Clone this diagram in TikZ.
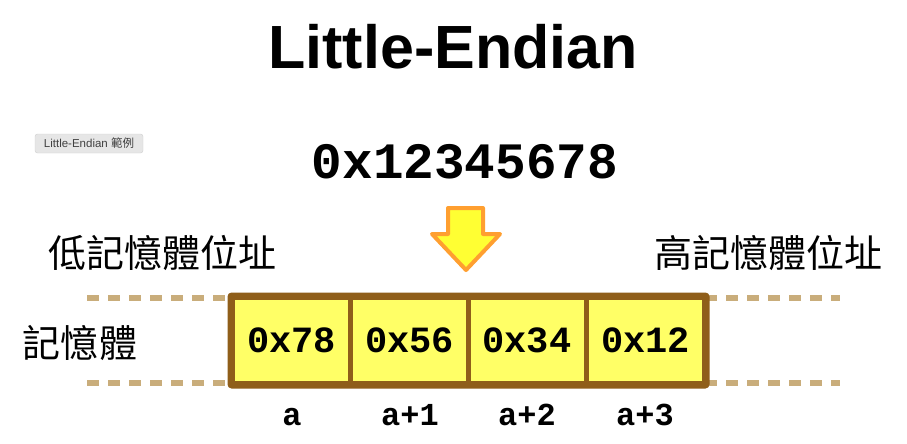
\documentclass[tikz,border=0pt]{standalone}
\usepackage{fontspec}
\setmainfont{Liberation Sans}
\newfontfamily\cjkfont{Noto Sans CJK TC}
\newfontfamily\monob{Liberation Mono}[BoldFont=* Bold]
\definecolor{cellfill}{HTML}{FFFF66}
\definecolor{cellborder}{HTML}{8F5E1A}
\definecolor{dashcol}{HTML}{C9AD7B}
\definecolor{arrowfill}{HTML}{FFFF33}
\definecolor{arrowborder}{HTML}{FF9F30}
\definecolor{tipfill}{HTML}{E6E6E6}
\definecolor{tipborder}{HTML}{CFCFCF}
\begin{document}
\begin{tikzpicture}[x=1pt,y=1pt,
  cell/.style={draw=cellborder, fill=cellfill, line width=5pt, minimum width=118pt, minimum height=86pt, inner sep=0pt, font=\monob\bfseries\fontsize{37}{40}\selectfont},
  addr/.style={font=\monob\bfseries\fontsize{32}{36}\selectfont, inner sep=0pt, anchor=base},
  cjklabel/.style={font=\cjkfont\fontsize{38}{42}\selectfont, inner sep=0pt},
  dashline/.style={dashcol, line width=6pt, dash pattern=on 12pt off 9pt}]
\useasboundingbox (0,0) rectangle (907,-444);
% title
\node[font=\bfseries\fontsize{61}{66}\selectfont, inner sep=0pt] (title) at (453,-47) {Little-Endian};
% tooltip
\node[draw=tipborder, fill=tipfill, rounded corners=2.5pt, minimum width=108pt, minimum height=19pt, inner sep=0pt, text=black!75, font=\fontsize{11.5}{13}\selectfont] (tip) at (89,-143.5) {Little-Endian {\cjkfont 範例}};
% value
\node[font=\monob\bfseries\fontsize{51}{56}\selectfont, inner sep=0pt] (value) at (465,-162) {0x12345678};
% arrow
\draw[draw=arrowborder, fill=arrowfill, line width=4pt, line join=round]
  (448,-208) -- (483,-208) -- (483,-234) -- (500,-234) -- (466,-270) -- (432,-234) -- (448,-234) -- cycle;
% labels
\node[cjklabel] (low) at (162,-253) {低記憶體位址};
\node[cjklabel] (high) at (768,-253) {高記憶體位址};
\node[cjklabel] (mem) at (80,-343) {記憶體};
% dashed lines
\coordinate (lt) at (87,-298);
\coordinate (lb) at (87,-383);
\coordinate (rt) at (840,-298);
\coordinate (rb) at (840,-383);
\coordinate (blt) at (232,-298);
\coordinate (blb) at (232,-383);
\coordinate (brt) at (705,-298);
\coordinate (brb) at (705,-383);
\draw[dashline] (lt) -- (blt);
\draw[dashline] (lb) -- (blb);
\draw[dashline] (brt) -- ++(4.5,0) -- (rt);
\draw[dashline] (brb) -- ++(4.5,0) -- (rb);
% cells
\node[cell] (c1) at (291.5,-340.5) {0x78};
\node[cell] (c2) at (409.5,-340.5) {0x56};
\node[cell] (c3) at (527,-340.5) {0x34};
\node[cell] (c4) at (645.5,-340.5) {0x12};
\draw[cellborder, line width=5pt, rounded corners=2pt] (c1.north west) rectangle (c4.south east);
% addresses
\node[addr] (a0) at (292,-425) {a};
\node[addr] (a1) at (410,-425) {a+1};
\node[addr] (a2) at (527,-425) {a+2};
\node[addr] (a3) at (645,-425) {a+3};
\end{tikzpicture}
\end{document}
